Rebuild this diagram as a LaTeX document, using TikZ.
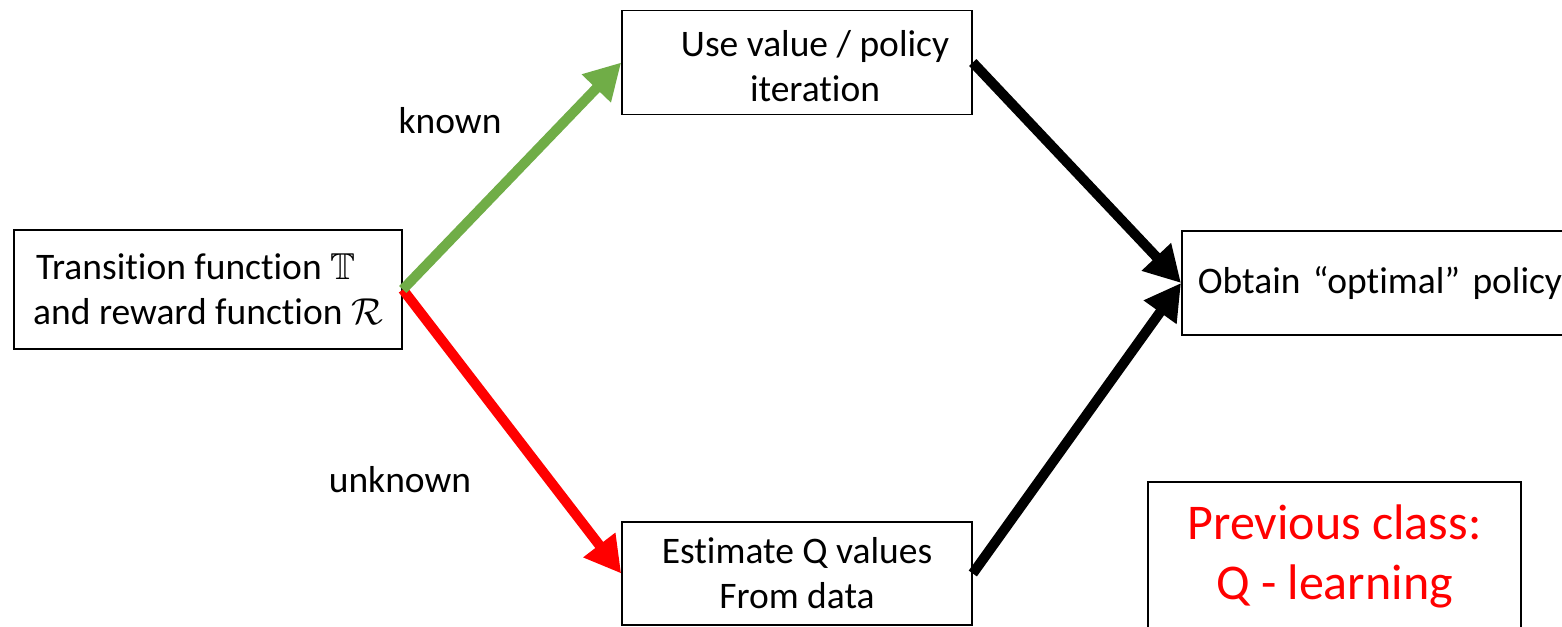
\RequirePackage{fix-cm}
\documentclass[tikz,border=0pt]{standalone}
\usepackage{amssymb}
\usepackage{fontspec}
\setmainfont{Carlito}[Ligatures={TeX,NoCommon}]
\usetikzlibrary{arrows.meta}
\definecolor{knowngreen}{RGB}{112,173,71}
\definecolor{unkred}{RGB}{255,0,0}
\tikzset{
  box/.style={draw=black, line width=1.6pt, inner sep=0pt},
  txt/.style={font=\fontsize{37.5}{45}\selectfont, align=center},
  bigtxt/.style={font=\fontsize{50}{60}\selectfont, align=center, text=unkred},
  flow/.style={line width=10pt, -{Triangle[length=36pt,width=38pt]}}
}
\begin{document}
\begin{tikzpicture}[x=1pt,y=-1pt]
\clip (0,0) rectangle (1562,626);
\fill[white] (0,0) rectangle (1562,626);

% boxes
\node[box, txt, align=left, minimum width=388pt, minimum height=119pt] (ltf) at (208,289.5)
  {\hspace*{3pt}Transition function $\mathbb{T}$\\and reward function $\mathcal{R}$};
\node[box, minimum width=350pt, minimum height=104pt] (use) at (797,62.5) {};
\node[txt] (usetext) at (815,66) {Use value / policy\\iteration};
\node[box, txt, minimum width=350pt, minimum height=103pt] (est) at (797,573.5)
  {Estimate Q values\\From data};
\node[box, txt, anchor=west, minimum height=104pt, text width=380pt, inner xsep=16pt, align=left] (opt) at (1181,283)
  {Obtain “optimal” policy};
\node[box, bigtxt, minimum width=373pt, minimum height=148pt] (prev) at (1334.5,556)
  {Previous class:\\Q - learning};

% branch labels
\node[txt, anchor=base] (kn) at (450,133) {known};
\node[txt, anchor=base] (unk) at (400,492) {unknown};

% connectors
\draw[flow, unkred] (ltf.east) -- (est.west);
\draw[flow, knowngreen] (ltf.east) -- (use.west);
\draw[flow, black] (use.east) -- (opt.west);
\draw[flow, black] (est.east) -- (opt.west);
\end{tikzpicture}
\end{document}
